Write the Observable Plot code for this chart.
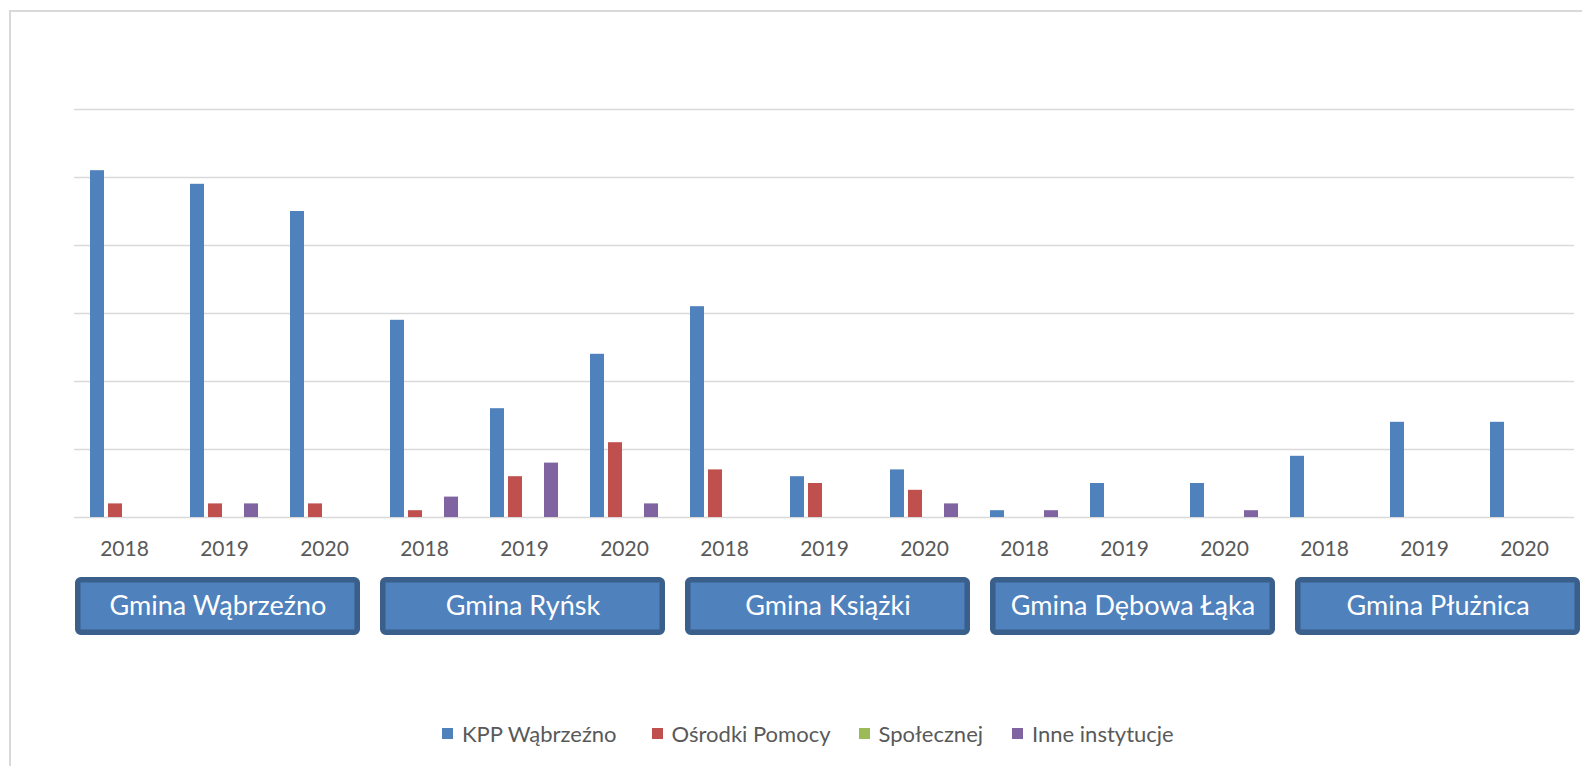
<!DOCTYPE html>
<html>
<head>
<meta charset="utf-8">
<script src="https://cdn.jsdelivr.net/npm/d3@7"></script>
<script src="https://cdn.jsdelivr.net/npm/@observablehq/plot@0.6"></script>
<style>
  html, body { margin: 0; padding: 0; background: #fff; }
  #root { position: relative; width: 1582px; height: 766px; overflow: hidden; font-family: Lato, sans-serif; }
  #frame { position: absolute; left: 9px; top: 10px; width: 1600px; height: 800px; border-left: 2px solid #d9d9d9; border-top: 2px solid #d9d9d9; }
  #main { position: absolute; left: 0; top: 0; }
  #boxes { position: absolute; left: 0; top: 560px; }
  #legend { position: absolute; left: 442px; top: 720px; display: flex; align-items: center; font-size: 22px; color: #595959; white-space: nowrap; }
  #legend .item { display: flex; align-items: center; }
  #legend .sw { width: 11px; height: 11px; margin-right: 9px; }
</style>
</head>
<body>
<div id="root">
  <div id="frame"></div>
  <div id="main"></div>
  <div id="boxes"></div>
  <div id="legend"></div>
</div>
<script>
// ---- data ----
const gminy = ["Gmina Wąbrzeźno", "Gmina Ryńsk", "Gmina Książki", "Gmina Dębowa Łąka", "Gmina Płużnica"];
const lata = ["2018", "2019", "2020"];
const serie = ["KPP Wąbrzeźno", "Ośrodki Pomocy", "Społecznej", "Inne instytucje"];
const kpp      = [51, 49, 45, 29, 16, 24, 31, 6, 7, 1, 5, 5, 9, 14, 14];
const osrodki  = [2, 2, 2, 1, 6, 11, 7, 5, 4, 0, 0, 0, 0, 0, 0];
const spoleczn = [0, 0, 0, 0, 0, 0, 0, 0, 0, 0, 0, 0, 0, 0, 0];
const inne     = [0, 2, 0, 3, 8, 2, 0, 0, 2, 1, 0, 1, 0, 0, 0];
const yTicks = [0, 10, 20, 30, 40, 50, 60];
const colors = ["#4f81bd", "#c0504d", "#9bbb59", "#8064a2"];

const seriesValues = [kpp, osrodki, spoleczn, inne];
const keys = [];
const rows = [];
gminy.forEach((g, gi) => lata.forEach((y, yi) => {
  const i = gi * 3 + yi;
  const key = g + "|" + y;
  keys.push(key);
  seriesValues.forEach((vals, si) => rows.push({cat: key, series: serie[si], value: vals[i]}));
}));

const main = Plot.plot({
  width: 1582,
  height: 560,
  marginLeft: 73,
  marginRight: 7,
  marginTop: 109,
  marginBottom: 43,
  style: {fontFamily: "Lato, sans-serif", fontSize: "21px", color: "#595959", background: "transparent"},
  facet: {data: rows, x: "cat"},
  fx: {domain: keys, padding: 0, axis: "bottom", tickSize: 0, tickPadding: 24, label: null,
       tickFormat: d => d.split("|")[1]},
  x: {domain: serie, paddingInner: 0.227, paddingOuter: 0.879, axis: null},
  y: {domain: [0, 60], axis: null},
  color: {domain: serie, range: colors},
  marks: [
    Plot.ruleY(yTicks, {stroke: "#d9d9d9", strokeWidth: 1.6}),
    Plot.barY(rows, {x: "series", y: "value", fill: "series"})
  ]
});
document.getElementById("main").appendChild(main);

const boxes = Plot.plot({
  width: 1582,
  height: 90,
  marginLeft: 74,
  marginRight: 0,
  marginTop: 17,
  marginBottom: 15,
  style: {fontFamily: "Lato, sans-serif", fontSize: "27px", background: "transparent"},
  x: {domain: gminy, paddingInner: 0.064, paddingOuter: 0, axis: null},
  marks: [
    Plot.cell(gminy, {x: d => d, fill: "#4f81bd", stroke: "#3a5f8b", strokeWidth: 5.5, inset: 2.75, rx: 3}),
    Plot.text(gminy, {x: d => d, frameAnchor: "middle", text: d => d, fill: "white"})
  ]
});
document.getElementById("boxes").appendChild(boxes);

const legendGaps = [35, 28, 29, 0];
const legend = document.getElementById("legend");
serie.forEach((s, i) => {
  const item = document.createElement("div");
  item.className = "item";
  item.style.marginRight = legendGaps[i] + "px";
  const sw = document.createElement("div");
  sw.className = "sw";
  sw.style.background = colors[i];
  const t = document.createElement("span");
  t.textContent = s;
  item.appendChild(sw);
  item.appendChild(t);
  legend.appendChild(item);
});
</script>
</body>
</html>
